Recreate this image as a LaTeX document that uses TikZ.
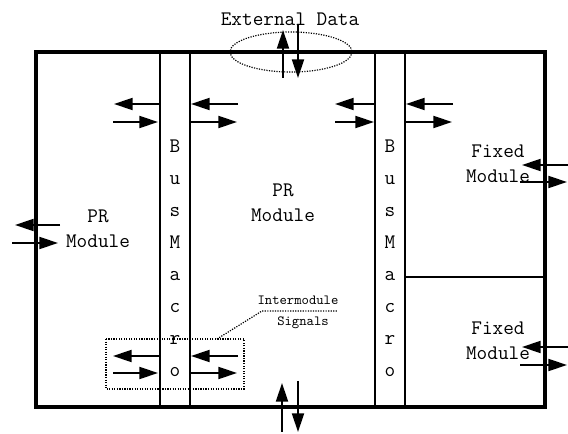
\documentclass[tikz,border=0pt]{standalone}
\usepackage{tikz}
\usetikzlibrary{arrows.meta}
\tikzstyle{sigarrow}=[line width=1.5pt, -{Triangle[length=14pt, width=9pt]}]
\tikzstyle{lbl}=[font=\ttfamily\fontsize{15.5}{19}\selectfont, align=center, inner sep=0pt]
\tikzstyle{small}=[font=\ttfamily\fontsize{10.5}{12}\selectfont, inner sep=0pt]
\tikzstyle{dots}=[densely dotted, line width=0.9pt]
\newcommand{\sigarrow}{\draw[sigarrow]}
\newcommand{\lbl}{\node[lbl]}

\begin{document}
\begin{tikzpicture}[x=0.75pt,y=-0.75pt]
\useasboundingbox (0,0) rectangle (568,434);
% frame and bus macros
\draw[line width=2.5pt] (36,52) rectangle (545,407);
\draw[line width=0.8pt] (160,52) -- (160,407) (190,52) -- (190,407);
\draw[line width=0.8pt] (375,52) -- (375,407) (405,52) -- (405,407);
\draw[line width=0.8pt] (405,277) -- (545,277);
\foreach \l [count=\i] in {B,u,s,M,a,c,r,o}{
  \node[lbl, anchor=base] (busa\i) at (175,{153+31.9*(\i-1)}) {\l};
  \node[lbl, anchor=base] (busb\i) at (390,{153+31.9*(\i-1)}) {\l};
}
% module labels
\lbl (extdata) at (290,19) {External Data};
\lbl (prleft) at (98,229) {PR\\Module};
\lbl (prmid) at (283,203) {PR\\Module};
\lbl (fixtop) at (498,164) {Fixed\\Module};
\lbl (fixbot) at (498,341) {Fixed\\Module};
\node[small] (inter) at (298,300) {Intermodule};
\node[small] (signals) at (303,323) {Signals};
% external data
\draw[dots] (291,52) ellipse (61 and 20);
\sigarrow (283,78) -- (283,30);
\sigarrow (298,25) -- (298,78);
\sigarrow (282,432) -- (282,383);
\sigarrow (298,381) -- (298,432);
% signals across bus macros
\sigarrow (160,104) -- (114,104);
\sigarrow (113,122) -- (158,122);
\sigarrow (238,104) -- (191,104);
\sigarrow (191,122) -- (237,122);
\sigarrow (375,104) -- (335,104);
\sigarrow (335,122) -- (374,122);
\sigarrow (453,104) -- (406,104);
\sigarrow (406,122) -- (452,122);
\sigarrow (160,356) -- (113,356);
\sigarrow (113,373) -- (158,373);
\sigarrow (238,356) -- (191,356);
\sigarrow (191,373) -- (237,373);
% module ports
\sigarrow (60,225) -- (15,225);
\sigarrow (12,243) -- (58,243);
\sigarrow (568,165) -- (522,165);
\sigarrow (520,182) -- (567,182);
\sigarrow (568,347) -- (522,347);
\sigarrow (520,365) -- (567,365);
% intermodule signals
\draw[dots] (106,339) rectangle (244,389);
\draw[dots] (217,339) -- (262,311) -- (337,311);
\end{tikzpicture}
\end{document}
